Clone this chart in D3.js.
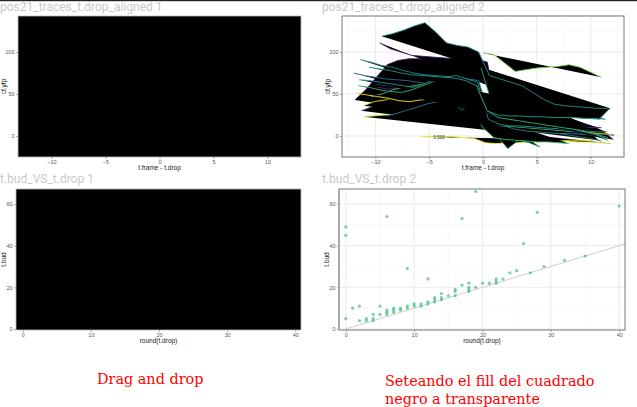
<!DOCTYPE html>
<html><head><meta charset="utf-8">
<script src="https://cdn.jsdelivr.net/npm/d3@7"></script>
<style>body{margin:0;background:#fff;overflow:hidden}</style>
</head><body><svg id="c" width="637" height="407"></svg>
<script>
// ---------- data ----------
const panelTitles = ["pos21_traces_t.drop_aligned 1", "pos21_traces_t.drop_aligned 2", "t.bud_VS_t.drop 1", "t.bud_VS_t.drop 2"];
const traceXTicks = [-10, -5, 0, 5, 10];
const traceYTicks = [0, 50, 100];
const budXTicks = [0, 10, 20, 30, 40];
const budYTicks = [0, 20, 40, 60];
const captionLeft = ["Drag and drop"];
const captionRight = ["Seteando el fill del cuadrado", "negro a transparente"];

// traces: start offset (t.frame - t.drop of first frame), colour group, cf.yfp per frame
const traceStart = [-11.9, -11.3, -9.8, -11.1, -5.8, 0.3, -1.0, -9.6, -12.0, -11.1, -10.0, -10.4, -9.0, -11.8, -0.2, -9.4, -11.4, -11.5, -11.6, -10.6, 0.0];
const traceGroup = [0.05, 0.3, 0.1, 0.93, 0.97, 0.55, 0.7, 0.02, 0.35, 0.95, 0.12, 0.7, 0.4, 1.0, 0.6, 0.5, 0.45, 0.5, 0.65, 0.55, 0.8];
const traceValues = [
  [43, 55, 70, 85, 90, 92, 92, 90, 88, 86, 82, 78, 40, 26, 24, 23, 22, 21, 20, 19, 18, 16, 12, 6, -4],
  [30, 35, 40, 45, 50, 52, 55, 58, 60, 62, 55, 50, 22, 20, 19, 18, 17, 16, 15, 14, 12, 8, -5],
  [58, 56, 57, 59, 60, 58, 56, 55, 54, 52, 48, 12, 10, 9, 8, 7, 6, 5, 5, 4, 3, 2, 1],
  [23, 24, 25, 25, 28, 31, 30, 29, 28, 26, 24, 22, 16, 10, 6, 3, 0, -3, -5, -6, -7, -7, -8, -9],
  [-1, -1, -1, -1, -2, -3, -8, -9, -8, -8, -7, -7, -6, -6, -5, -5, -5],
  [30, 0, -15, -5, -8, -13],
  [30, 10, -2, -4, -5, -6, -7, -7, -8, -9],
  [111, 104, 100, 96, 95, 94, 93, 92, 92, 92, 88, 20, 12, 10, 10, 9, 8, 8, 7, 6, 6, 5],
  [75, 72, 70, 68, 67, 66, 64, 62, 60, 58, 56, 52, 45, 15, 12, 10, 8, 6, 5, 3, 1, -1, -3, -6],
  [36, 41, 43, 45, 44, 43, 42, 44, 45, 44, 42, 40, 20, 18, 16, 14, 12, 10, 9, 8, 6, 4, 3, 2],
  [62, 60, 58, 57, 56, 55, 56, 58, 60, 55, 50, 18, 16, 15, 14, 14, 13, 12, 12, 11, 10, 10],
  [47, 50, 55, 58, 60, 62, 64, 66, 68, 64, 55, 15, 12, 11, 10, 9, 8, 7, 6, 5, 4, 2, -2],
  [24, 27, 31, 35, 39, 41, 43, 31, 39, 47, 30, 12, 8, 6, 5, 4, 3, 3, 2, 2, 1],
  [51, 49, 47, 45, 42, 41, 43, 44],
  [82, 40, 30, 28, 26, 25, 24, 23, 22, 22, 21, 20, 33],
  [119, 122, 126, 131, 135, 124, 111, 108, 106, 100, 72, 68, 64, 60, 52, 44, 38, 36, 35, 34, 33, 33],
  [91, 88, 84, 82, 78, 75, 73, 72, 71, 70, 68, 66, 22, 20, 18, 16, 14, 12, 10, 8, 5, 2, 0, -5],
  [67, 66, 64, 62, 60, 58, 62, 68, 70, 72, 68, 64, 20, 14, 12, 12, 11, 10, 9, 9, 8, 6, 5, 5],
  [60, 58, 55, 53, 52, 55, 60, 65, 66, 65, 62, 60, 30, 22, 20, 18, 16, 14, 12, 10, 8, 5, 2, -3],
  [82, 80, 78, 75, 73, 72, 71, 70, 69, 66, 60, 30, 25, 24, 24, 23, 23, 22, 22, 22, 21, 21, 20],
  [99, 97, 87, 77, 79, 81, 82, 83, 85, 82, 76, 70]
];

// t.bud vs round(t.drop)
const tDrop = [0, 0, 0, 1, 2, 2, 3, 3, 4, 4, 4, 5, 5, 6, 6, 6, 6, 7, 7, 7, 8, 8, 9, 9, 9, 10, 10, 11, 11, 12, 12, 12,
  13, 13, 13, 14, 14, 14, 15, 16, 16, 16, 17, 17, 18, 18, 18, 18, 19, 19, 20, 21, 22, 22, 22, 23, 24, 25, 26, 27, 28, 29, 32, 35, 40];
const tBud = [49, 45, 5, 10, 11, 4, 5, 4, 7, 5, 4, 11, 7, 54, 9, 8, 7, 10, 9, 8, 10, 9, 29, 11, 10, 12, 11, 12, 11, 24, 13, 12,
  15, 14, 13, 17, 15, 14, 16, 19, 18, 16, 53, 21, 22, 20, 19, 18, 66, 20, 22, 22, 24, 23, 22, 24, 27, 28, 41, 27, 56, 30, 33, 35, 59];

// ---------- drawing ----------
const svg = d3.select("#c");
const viridis = d3.scaleSequential(d3.interpolateViridis).domain([0, 1]);
svg.append("rect").attr("x", 0).attr("y", 0).attr("width", 637).attr("height", 1.2).attr("fill", "#222");

const P = {
  tl: {x0: 18, x1: 301, y0: 16, y1: 157, yt: 6},
  tr: {x0: 342, x1: 624, y0: 16, y1: 157, yt: 330},
  bl: {x0: 16, x1: 301, y0: 189, y1: 330, yt: 6},
  br: {x0: 339, x1: 625, y0: 189, y1: 330, yt: 329}
};

function titles(txt, x, y) {
  svg.append("text").attr("x", x).attr("y", y).text(txt)
    .attr("font-family", "Roboto, 'Noto Sans', sans-serif").attr("font-size", 12)
    .attr("fill", "#c9c9c9");
}
titles(panelTitles[0], 0, 11);
titles(panelTitles[1], 322, 11);
titles(panelTitles[2], 0, 183);
titles(panelTitles[3], 322, 183);

function panel(p, xDom, yDom, xTicks, yTicks, xMinor, yMinor, xTitle, yTitle, black) {
  const x = d3.scaleLinear().domain(xDom).range([p.x0, p.x1]);
  const y = d3.scaleLinear().domain(yDom).range([p.y1, p.y0]);
  const g = svg.append("g");
  if (!black) {
    g.append("rect").attr("x", p.x0).attr("y", p.y0).attr("width", p.x1 - p.x0).attr("height", p.y1 - p.y0).attr("fill", "#fff");
    g.selectAll(".vm").data(xMinor).join("line").attr("x1", d => x(d)).attr("x2", d => x(d)).attr("y1", p.y0).attr("y2", p.y1)
      .attr("stroke", "#f3f3f3").attr("stroke-width", 0.6);
    g.selectAll(".hm").data(yMinor).join("line").attr("y1", d => y(d)).attr("y2", d => y(d)).attr("x1", p.x0).attr("x2", p.x1)
      .attr("stroke", "#f3f3f3").attr("stroke-width", 0.6);
    g.selectAll(".vM").data(xTicks).join("line").attr("x1", d => x(d)).attr("x2", d => x(d)).attr("y1", p.y0).attr("y2", p.y1)
      .attr("stroke", "#ebebeb").attr("stroke-width", 1);
    g.selectAll(".hM").data(yTicks).join("line").attr("y1", d => y(d)).attr("y2", d => y(d)).attr("x1", p.x0).attr("x2", p.x1)
      .attr("stroke", "#ebebeb").attr("stroke-width", 1);
  }
  const ax = svg.append("g").attr("transform", `translate(0,${p.y1})`)
    .call(d3.axisBottom(x).tickValues(xTicks).tickSize(2).tickPadding(1.5));
  const ay = svg.append("g").attr("transform", `translate(${p.x0},0)`)
    .call(d3.axisLeft(y).tickValues(yTicks).tickSize(2).tickPadding(1.5));
  [ax, ay].forEach(a => {
    a.select(".domain").remove();
    a.selectAll(".tick line").attr("stroke", "#666").attr("stroke-width", 0.6);
    a.selectAll(".tick text").attr("font-size", 5.5).attr("fill", "#555").attr("font-family", "'Liberation Sans', Arial, sans-serif");
  });
  svg.append("text").attr("x", (p.x0 + p.x1) / 2).attr("y", p.y1 + 13).attr("text-anchor", "middle")
    .attr("font-size", 6.5).attr("fill", "#222").attr("font-family", "'Liberation Sans', Arial, sans-serif").text(xTitle);
  svg.append("text").attr("transform", `translate(${p.yt},${(p.y0 + p.y1) / 2}) rotate(-90)`).attr("text-anchor", "middle")
    .attr("font-size", 6.5).attr("fill", "#222").attr("font-family", "'Liberation Sans', Arial, sans-serif").text(yTitle);
  return {x, y, g};
}

const tXMinor = [-12.5, -7.5, -2.5, 2.5, 7.5, 12.5];
const tYMinor = [-25, 25, 75, 125];
const bXMinor = [5, 15, 25, 35];
const bYMinor = [10, 30, 50];

const tl = panel(P.tl, [-13.1, 13.1], [-25, 143], traceXTicks, traceYTicks, tXMinor, tYMinor, "t.frame - t.drop", "cf.yfp", true);
const tr = panel(P.tr, [-13.1, 13.1], [-25, 143], traceXTicks, traceYTicks, tXMinor, tYMinor, "t.frame - t.drop", "cf.yfp", false);
const bl = panel(P.bl, [-1, 40.85], [-0.5, 67.2], budXTicks, budYTicks, bXMinor, bYMinor, "round(t.drop)", "t.bud", true);
const br = panel(P.br, [-1, 40.85], [-0.5, 67.2], budXTicks, budYTicks, bXMinor, bYMinor, "round(t.drop)", "t.bud", false);

// black squares
[P.tl, P.bl].forEach(p => {
  svg.append("rect").attr("x", p.x0).attr("y", p.y0).attr("width", p.x1 - p.x0).attr("height", p.y1 - p.y0)
    .attr("fill", "#000").attr("stroke", "#bbb").attr("stroke-width", 0.8);
});

// traces (path fill left black)
svg.append("clipPath").attr("id", "cTR").append("rect").attr("x", P.tr.x0).attr("y", P.tr.y0)
  .attr("width", P.tr.x1 - P.tr.x0).attr("height", P.tr.y1 - P.tr.y0);
const line = d3.line().x(d => tr.x(d[0])).y(d => tr.y(d[1]));
const tg = svg.append("g").attr("clip-path", "url(#cTR)");
traceValues.forEach((vals, i) => {
  const pts = vals.map((v, k) => [traceStart[i] + k, v]);
  tg.append("path").attr("d", line(pts)).attr("fill", "#000")
    .attr("stroke", viridis(traceGroup[i])).attr("stroke-width", 0.9).attr("stroke-linejoin", "round");
});
tg.append("text").attr("x", tr.x(-4.6)).attr("y", tr.y(-3.5)).attr("font-size", 4.5).attr("fill", "#333")
  .attr("font-family", "'Liberation Sans', Arial, sans-serif").text("0.500");

// scatter
svg.append("clipPath").attr("id", "cBR").append("rect").attr("x", P.br.x0).attr("y", P.br.y0)
  .attr("width", P.br.x1 - P.br.x0).attr("height", P.br.y1 - P.br.y0);
const sg = svg.append("g").attr("clip-path", "url(#cBR)");
sg.append("line").attr("x1", br.x(0)).attr("y1", br.y(0)).attr("x2", br.x(45)).attr("y2", br.y(45))
  .attr("stroke", "#c8c8c8").attr("stroke-width", 0.9);
sg.selectAll("circle").data(tDrop.map((d, i) => [d, tBud[i]])).join("circle")
  .attr("cx", d => br.x(d[0])).attr("cy", d => br.y(d[1])).attr("r", 1.6)
  .attr("fill", "#35b779").attr("fill-opacity", 0.65);

// borders of visible panels
[P.tr, P.br].forEach(p => {
  svg.append("rect").attr("x", p.x0).attr("y", p.y0).attr("width", p.x1 - p.x0).attr("height", p.y1 - p.y0)
    .attr("fill", "none").attr("stroke", "#777").attr("stroke-width", 1);
});
svg.append("line").attr("x1", P.br.x0).attr("x2", P.br.x0).attr("y1", P.br.y0).attr("y2", P.br.y1)
  .attr("stroke", "#aaa").attr("stroke-width", 2);

// captions
const cap = svg.append("g").attr("font-family", "'DejaVu Serif', 'Liberation Serif', serif")
  .attr("fill", "#ff0000").attr("font-size", 14.4);
cap.selectAll(".l").data(captionLeft).join("text").attr("x", 97).attr("y", (d, i) => 384 + i * 18).text(d => d);
cap.selectAll(".r").data(captionRight).join("text").attr("x", 385).attr("y", (d, i) => 386 + i * 18).text(d => d);
</script>
</body></html>
